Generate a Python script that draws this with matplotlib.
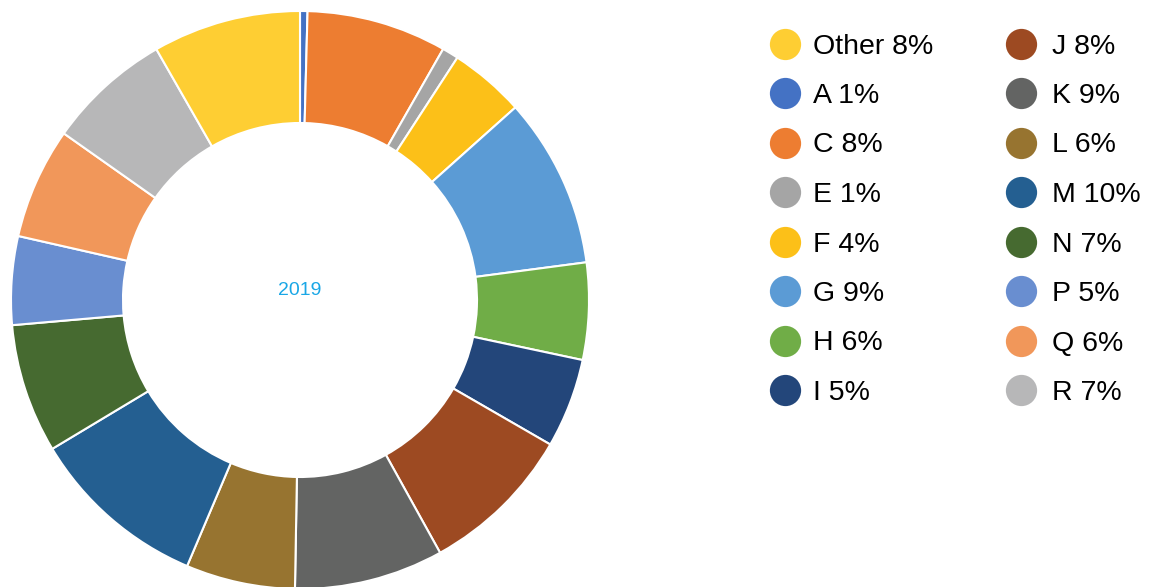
import matplotlib.pyplot as plt

plt.rcParams['font.family'] = ['Liberation Sans', 'DejaVu Sans']

slice_names = ['A', 'C', 'E', 'F', 'G', 'H', 'I', 'J', 'K', 'L', 'M', 'N', 'P', 'Q', 'R', 'Other']
slice_sizes = [1.5, 28.2, 3.3, 15.2, 34.3, 19.5, 18.0, 31.0, 30.0, 22.0, 36.0, 26.0, 17.8, 22.4, 25.0, 29.8]
slice_colors = ['#4472C4', '#ED7D31', '#A5A5A5', '#FCC018', '#5B9BD5', '#70AD47', '#23467A',
                '#9D4A22', '#636463', '#977430', '#245F91', '#466A30', '#698ED0', '#F1975A',
                '#B7B7B8', '#FECE33']

# legend order and the percentages printed in it
legend_names = ['Other', 'A', 'C', 'E', 'F', 'G', 'H', 'I',
                'J', 'K', 'L', 'M', 'N', 'P', 'Q', 'R']
legend_pct = [8, 1, 8, 1, 4, 9, 6, 5, 8, 9, 6, 10, 7, 5, 6, 7]

year_label = '2019'

W, H = 1151, 587
fig = plt.figure(figsize=(W / 100, H / 100), dpi=100)

# donut axes: 600x600 px square centred at (300, 300) from the top
ax = fig.add_axes([0, (H - 300 - 300) / H, 600 / W, 600 / H])
ax.pie(slice_sizes, colors=slice_colors, startangle=90, counterclock=False,
       radius=289 / 300,
       wedgeprops=dict(width=112 / 300, edgecolor='white', linewidth=1.5))
ax.set_xlim(-1, 1)
ax.set_ylim(-1, 1)
ax.set_aspect('equal')
ax.axis('off')
ax.text(0, 10 / 300, year_label, ha='center', va='center', fontsize=14, color='#1AA7E6')

# legend: two columns of eight, placed in figure pixels
color_of = dict(zip(slice_names, slice_colors))
lax = fig.add_axes([0, 0, 1, 1])
lax.set_xlim(0, W)
lax.set_ylim(H, 0)
lax.axis('off')
for i, (name, pct) in enumerate(zip(legend_names, legend_pct)):
    col, row = divmod(i, 8)
    cx = 785 if col == 0 else 1021
    tx = 813 if col == 0 else 1052
    cy = 43.5 + row * 49.5
    lax.plot(cx, cy, marker='o', markersize=22.5, color=color_of[name],
             markeredgewidth=0, linestyle='None')
    lax.text(tx, cy + 10, f'{name} {pct}%', fontsize=20.5,
             ha='left', va='baseline', color='black')

fig.savefig('out.png', dpi=100)
